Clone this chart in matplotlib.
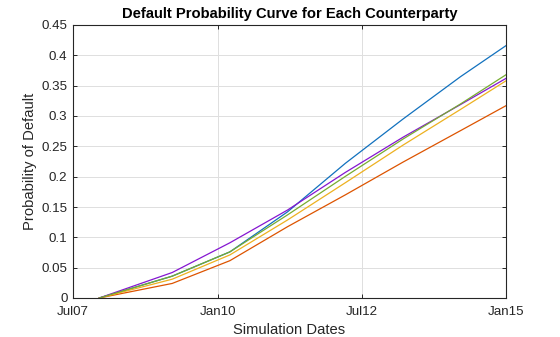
import matplotlib
matplotlib.use("Agg")
import matplotlib.pyplot as plt
import matplotlib.dates as mdates
from matplotlib.ticker import FixedLocator, FuncFormatter
from datetime import datetime

# simulation dates (settle, then CDS maturity dates, then end of horizon)
sim_dates = ["2007-12-14", "2009-03-20", "2010-03-20", "2011-03-20",
             "2012-03-20", "2013-03-20", "2014-03-20", "2015-01-01"]

# cumulative default probability for each counterparty
cp1 = [0, 0.036, 0.076, 0.142, 0.222, 0.295, 0.365, 0.416]
cp2 = [0, 0.024, 0.0615, 0.1175, 0.170, 0.224, 0.276, 0.317]
cp3 = [0, 0.031, 0.071, 0.1286, 0.190, 0.252, 0.311, 0.358]
cp4 = [0, 0.042, 0.091, 0.145, 0.207, 0.265, 0.319, 0.362]
cp5 = [0, 0.036, 0.076, 0.137, 0.2005, 0.262, 0.320, 0.368]

y_ticks = [0, 0.05, 0.1, 0.15, 0.2, 0.25, 0.3, 0.35, 0.4, 0.45]
x_ticks = ["2007-07-01", "2010-01-01", "2012-07-01", "2015-01-01"]

colors = ["#1171BE", "#DD5400", "#EDB120", "#8516D1", "#77AC30"]

plt.rcParams['font.family'] = ['Liberation Sans', 'DejaVu Sans']

dates = [datetime.strptime(d, "%Y-%m-%d") for d in sim_dates]
tick_dates = [datetime.strptime(d, "%Y-%m-%d") for d in x_ticks]

fig = plt.figure(figsize=(5.6, 3.37), dpi=100)
ax = fig.add_axes([73/560, 1-298/337, (506-73)/560, (298-25)/337])

for vals, c in zip([cp1, cp2, cp3, cp4, cp5], colors):
    ax.plot(dates, vals, color=c, lw=0.9)

ax.set_xlim(tick_dates[0], tick_dates[-1])
ax.set_ylim(0, 0.45)
ax.xaxis.set_major_locator(FixedLocator(mdates.date2num(tick_dates)))
ax.xaxis.set_major_formatter(mdates.DateFormatter("%b%y"))
ax.yaxis.set_major_locator(FixedLocator(y_ticks))
ax.yaxis.set_major_formatter(FuncFormatter(lambda v, p: "%g" % round(v, 2)))

ax.grid(True, color="#DFDFDF", lw=0.7)
ax.set_axisbelow(True)
for s in ax.spines.values():
    s.set_color("#262626")
    s.set_linewidth(0.8)
ax.tick_params(direction="in", length=3, width=0.7, colors="#262626",
               labelsize=9.6, top=True, right=True, pad=4)
ax.tick_params(axis="x", pad=6)

ax.set_title("Default Probability Curve for Each Counterparty",
             fontsize=10.6, fontweight="bold", color="black", pad=5)
ax.set_xlabel("Simulation Dates", fontsize=10.6, color="#262626", labelpad=3)
ax.set_ylabel("Probability of Default", fontsize=10.6, color="#262626", labelpad=3)

fig.savefig("out.png", dpi=100)
